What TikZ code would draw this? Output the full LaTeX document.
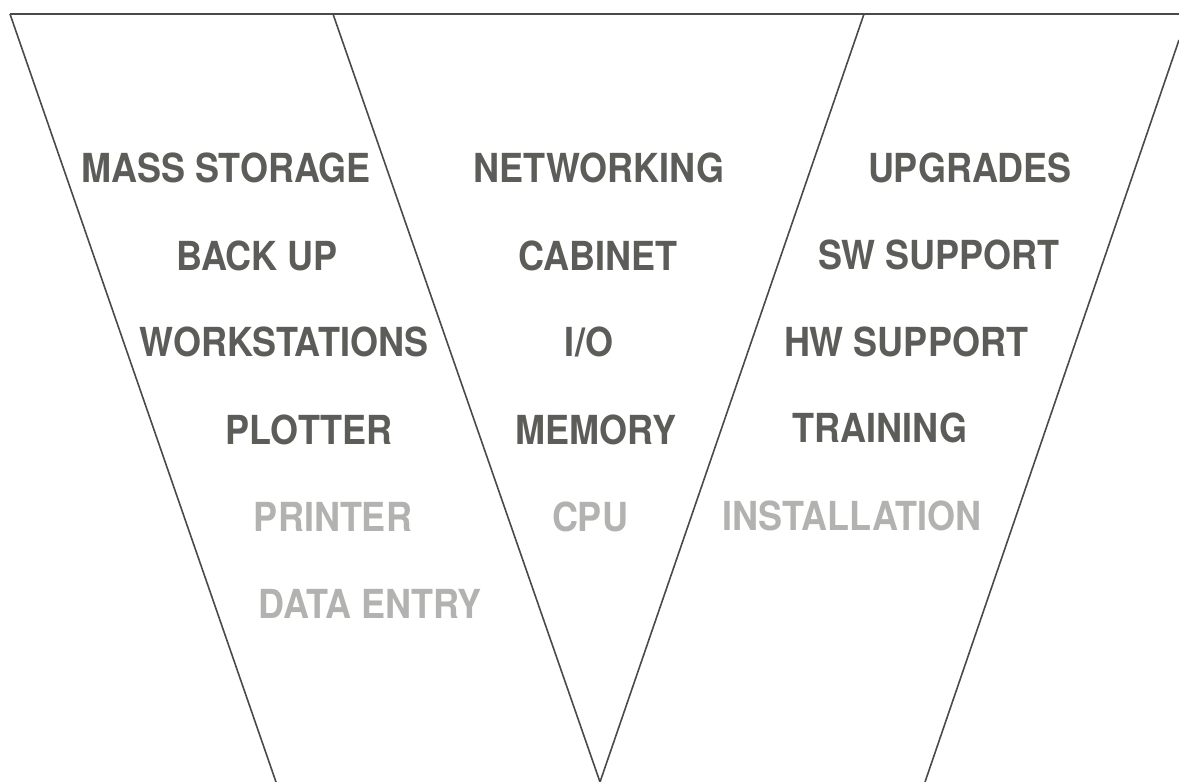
\documentclass[tikz,border=0pt]{standalone}
\usepackage{fontspec}
\setmainfont{TeX Gyre Heros}[FakeStretch=0.9]
\usepackage{tikz}
\usetikzlibrary{positioning}
\definecolor{inkgray}{HTML}{5C5D59}
\definecolor{fadegray}{HTML}{B2B2B0}
\definecolor{rulegray}{HTML}{4A4A48}

\begin{document}
\begin{tikzpicture}[x=0.5pt, y=-0.5pt]
        \tikzstyle{item} = [inner sep=0pt, text height=14.4pt, text depth=0pt, font=\fontsize{20pt}{24pt}\selectfont\bfseries, text=inkgray]
        \tikzstyle{faded} = [item, text=fadegray]
        \tikzstyle{line} = [draw, rulegray, line width=0.8pt]
        \useasboundingbox (0,0) rectangle (1179,782);

        % funnel outline
        \coordinate (tl) at (10,14);
        \coordinate (tm) at (333,14);
        \coordinate (tn) at (864,14);
        \coordinate (tr) at (1179,14);
        \coordinate (re) at (1179,40);
        \coordinate (bl) at (276,782);
        \coordinate (bm) at (600,782);
        \coordinate (br) at (925,782);

        \path [line] (tl) -- (tr);
        \path [line] (tl) -- (bl);
        \path [line] (tm) -- (bm);
        \path [line] (tn) -- (bm);
        \path [line] (re) -- (br);

        % left column
        \node [item] (mass) at (226,168) {MASS STORAGE};
        \node [item] (backup) at (257,256) {BACK UP};
        \node [item] (work) at (284,342) {WORKSTATIONS};
        \node [item] (plot) at (309,430) {PLOTTER};
        \node [faded] (print) at (333,517) {PRINTER};
        \node [faded] (entry) at (370,604) {DATA ENTRY};

        % middle column
        \node [item] (net) at (599,168) {NETWORKING};
        \node [item] (cab) at (598,256) {CABINET};
        \node [item] (io) at (589,342) {I/O};
        \node [item] (mem) at (596,430) {MEMORY};
        \node [faded] (cpu) at (590,517) {CPU};

        % right column
        \node [item] (upg) at (970,168) {UPGRADES};
        \node [item] (sw) at (939,255) {SW SUPPORT};
        \node [item] (hw) at (906,342) {HW SUPPORT};
        \node [item] (train) at (880,428) {TRAINING};
        \node [faded] (inst) at (852,516) {INSTALLATION};
    \end{tikzpicture}
\end{document}
